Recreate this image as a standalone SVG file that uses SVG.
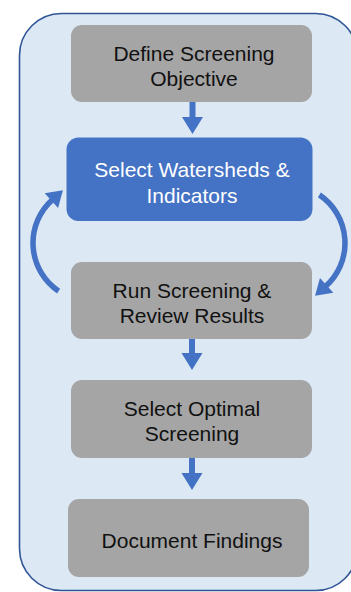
<svg xmlns="http://www.w3.org/2000/svg" width="351" height="592" viewBox="0 0 351 592">
<defs>
<style>
.node{fill:#a5a5a5;}
.sel{fill:#4472c4;}
.t{font-family:"Liberation Sans",Arial,sans-serif;font-size:21px;fill:#111;text-anchor:middle;}
.tw{fill:#fff;}
.arr{fill:#4472c4;}
.arc{fill:none;stroke:#4472c4;stroke-width:5.5;}
</style>
<marker id="ah" markerUnits="userSpaceOnUse" markerWidth="20" markerHeight="20" viewBox="0 0 14 18" refX="1" refY="9" orient="auto">
<path d="M0,0 L14,9 L0,18 Z" fill="#4472c4"/>
</marker>
</defs>
<rect x="19.5" y="13.5" width="338" height="577" rx="42" fill="#dde8f5" stroke="#2f5597" stroke-width="1.6"/>
<g id="connectors">
<path class="arr" d="M189.5,102 H195.5 V117 H203 L192.5,134 L182,117 H189.5 Z"/>
<path class="arr" d="M189,339 H195 V353 H202.5 L192,370 L181.5,353 H189 Z"/>
<path class="arr" d="M189,458 H195 V473 H202.5 L192,490 L181.5,473 H189 Z"/>
<path class="arc" d="M58.6,291.1 A58,58 0 0 1 52.2,199.9" marker-end="url(#ah)"/>
<path class="arc" d="M319.4,194.9 A58,58 0 0 1 325.8,286.1" marker-end="url(#ah)"/>
</g>
<g id="n1">
<rect class="node" x="71" y="25" width="241" height="77" rx="11"/>
<text class="t" x="194" y="61">Define Screening</text>
<text class="t" x="194" y="86">Objective</text>
</g>
<g id="n2">
<rect class="sel" x="66.5" y="137.5" width="246" height="83.5" rx="12"/>
<text class="t tw" x="192" y="177">Select Watersheds &amp;</text>
<text class="t tw" x="192" y="203">Indicators</text>
</g>
<g id="n3">
<rect class="node" x="71" y="262" width="241" height="77" rx="11"/>
<text class="t" x="192" y="298">Run Screening &amp;</text>
<text class="t" x="192" y="323">Review Results</text>
</g>
<g id="n4">
<rect class="node" x="71" y="380" width="241" height="78" rx="11"/>
<text class="t" x="192" y="416">Select Optimal</text>
<text class="t" x="192" y="441">Screening</text>
</g>
<g id="n5">
<rect class="node" x="68" y="499" width="241" height="78" rx="11"/>
<text class="t" x="192" y="548">Document Findings</text>
</g>
</svg>
